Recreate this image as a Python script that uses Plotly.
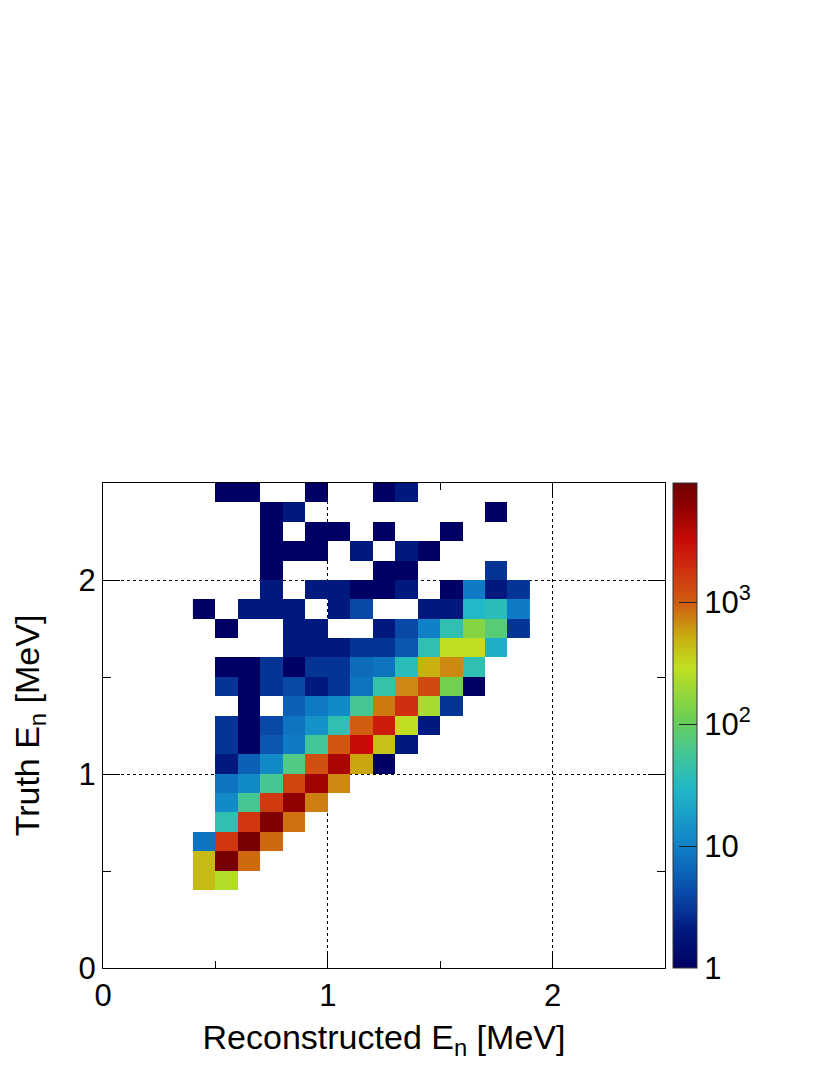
import math
import plotly.graph_objects as go

# Bin centres (MeV)
x_bins = [0.45, 0.55, 0.65, 0.75, 0.85, 0.95, 1.05, 1.15, 1.25, 1.35, 1.45, 1.55, 1.65, 1.75, 1.85]
y_bins = [0.45, 0.55, 0.65, 0.75, 0.85, 0.95, 1.05, 1.15, 1.25, 1.35, 1.45,
          1.55, 1.65, 1.75, 1.85, 1.95, 2.05, 2.15, 2.25, 2.35, 2.45]

# Counts per bin, one row per y bin (bottom to top), columns follow x_bins
counts = [
    [450, 250, 0, 0, 0, 0, 0, 0, 0, 0, 0, 0, 0, 0, 0],
    [450, 8500, 900, 0, 0, 0, 0, 0, 0, 0, 0, 0, 0, 0, 0],
    [8, 1700, 8500, 900, 0, 0, 0, 0, 0, 0, 0, 0, 0, 0, 0],
    [0, 40, 1700, 7500, 850, 0, 0, 0, 0, 0, 0, 0, 0, 0, 0],
    [0, 12, 60, 1600, 6000, 750, 0, 0, 0, 0, 0, 0, 0, 0, 0],
    [0, 8, 12, 60, 1400, 5000, 700, 0, 0, 0, 0, 0, 0, 0, 0],
    [0, 2, 6, 12, 70, 1200, 4500, 550, 1, 0, 0, 0, 0, 0, 0],
    [0, 3, 1, 5, 9, 55, 1100, 3200, 420, 2, 0, 0, 0, 0, 0],
    [0, 3, 1, 4, 8, 14, 40, 1000, 2500, 300, 2, 0, 0, 0, 0],
    [0, 0, 1, 0, 6, 9, 12, 60, 800, 1900, 220, 3, 0, 0, 0],
    [0, 3, 1, 3, 4, 2, 3, 8, 45, 700, 1300, 120, 1, 0, 0],
    [0, 1, 1, 3, 1, 3, 3, 7, 8, 35, 500, 700, 40, 0, 0],
    [0, 0, 0, 0, 2, 2, 2, 3, 3, 5, 40, 300, 300, 25, 0],
    [0, 1, 0, 0, 2, 2, 0, 0, 2, 4, 10, 40, 150, 80, 3],
    [1, 0, 2, 2, 2, 0, 2, 4, 0, 0, 2, 2, 30, 35, 9],
    [0, 0, 0, 2, 0, 2, 2, 1, 1, 2, 0, 1, 9, 2, 3],
    [0, 0, 0, 1, 0, 0, 0, 0, 1, 1, 0, 0, 0, 3, 0],
    [0, 0, 0, 1, 1, 1, 0, 2, 0, 2, 1, 0, 0, 0, 0],
    [0, 0, 0, 1, 0, 1, 1, 0, 1, 0, 0, 1, 0, 0, 0],
    [0, 0, 0, 1, 2, 0, 0, 0, 0, 0, 0, 0, 0, 1, 0],
    [0, 1, 1, 0, 0, 1, 0, 0, 1, 2, 0, 0, 0, 0, 0],
]

z_log_max = 3.98
cbar_tickvals = [0, 1, 2, 3]
cbar_ticktext = ["1", "10", "10<sup>2</sup>", "10<sup>3</sup>"]

z = [[math.log10(c) if c > 0 else None for c in row] for row in counts]

colorscale = [
    [0.00, "#000064"],
    [0.08, "#001a80"],
    [0.15, "#0848a8"],
    [0.25, "#1080c8"],
    [0.37, "#20b8c8"],
    [0.45, "#48c890"],
    [0.52, "#70d050"],
    [0.62, "#c0e020"],
    [0.68, "#c8b010"],
    [0.75, "#d06010"],
    [0.82, "#d03010"],
    [0.88, "#c80c08"],
    [0.95, "#900000"],
    [1.00, "#700000"],
]

FONT = "Liberation Sans, Arial, Helvetica, sans-serif"

fig = go.Figure()
fig.add_trace(go.Heatmap(
    x=x_bins, y=y_bins, z=z,
    zmin=0, zmax=z_log_max,
    colorscale=colorscale,
    hoverongaps=False,
    colorbar=dict(
        x=1.0142, xanchor="left", xpad=0,
        y=0.5, yanchor="middle", len=1, lenmode="fraction", ypad=0,
        thickness=24, thicknessmode="pixels",
        outlinecolor="#333333", outlinewidth=1,
        tickmode="array", tickvals=cbar_tickvals, ticktext=cbar_ticktext,
        ticks="inside", ticklen=18, tickcolor="#222222", tickwidth=1,
        tickfont=dict(family=FONT, size=31, color="black"),
        ticklabelposition="outside",
    ),
))

# Minor ticks on the colour bar (log positions)
shapes = []
bar_right = (697 - 103) / 562.0
for dec in range(0, 4):
    for m in range(2, 10):
        v = math.log10(m * 10 ** dec)
        if v < z_log_max:
            shapes.append(dict(type="line", xref="paper", yref="paper",
                               xsizemode="pixel", xanchor=bar_right, x0=-9, x1=0,
                               y0=v / z_log_max, y1=v / z_log_max,
                               line=dict(color="#222222", width=1)))

axis_common = dict(
    range=[0, 2.5], showline=True, mirror="ticks", linecolor="black", linewidth=1,
    ticks="inside", tickcolor="black", tickwidth=1,
    dtick=1, tick0=0,
    showgrid=True, gridcolor="black", griddash="dot", gridwidth=1,
    zeroline=False, layer="above traces",
    tickfont=dict(family=FONT, size=31, color="black"),
)

fig.update_layout(
    width=830, height=1075,
    margin=dict(l=95, r=173, t=475, b=115),
    paper_bgcolor="white", plot_bgcolor="white",
    font=dict(family=FONT, color="black"),
    shapes=shapes,
    xaxis=dict(**axis_common, ticklen=14,
               minor=dict(dtick=0.5, ticks="inside", ticklen=7, tickcolor="black", showgrid=False),
               title=dict(text="Reconstructed E<sub>n</sub> [MeV]",
                          font=dict(family=FONT, size=34), standoff=12)),
    yaxis=dict(**axis_common, ticklen=17,
               minor=dict(dtick=0.5, ticks="inside", ticklen=8, tickcolor="black", showgrid=False),
               title=dict(text="Truth E<sub>n</sub> [MeV]",
                          font=dict(family=FONT, size=34), standoff=36)),
)

fig.write_html("out.html")
